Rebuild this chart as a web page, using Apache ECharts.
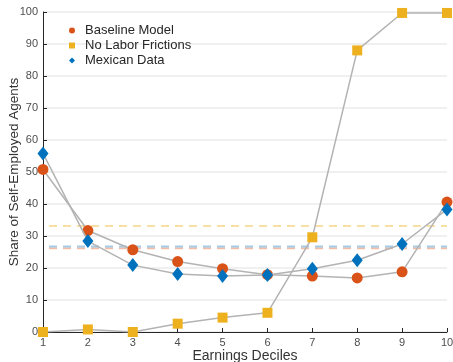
<!DOCTYPE html>
<html>
<head>
<meta charset="utf-8">
<script src="https://cdn.jsdelivr.net/npm/echarts@6/dist/echarts.min.js"></script>
<style>html,body{margin:0;padding:0;background:#fff}#c{width:453px;height:362px}</style>
</head>
<body>
<div id="c"></div>
<script>
const deciles = [1,2,3,4,5,6,7,8,9,10];
const baseline = [50.8,31.7,25.7,22.0,19.8,17.9,17.5,16.9,18.8,40.6];
const noFrictions = [0,0.8,0,2.6,4.5,6.0,29.6,88.0,99.7,99.7];
const mexican = [55.8,28.4,20.9,18.1,17.5,17.8,19.8,22.4,27.5,38.3];
const avgBaseline = 26.2;
const avgNoFrictions = 33.1;
const avgMexican = 26.7;
const yTicks = [0,10,20,30,40,50,60,70,80,90,100];

const pts = arr => deciles.map((d,i)=>[d,arr[i]]);
const flat = v => [[deciles[0],v],[deciles[deciles.length-1],v]];
const font = 'Liberation Sans, Arial, Helvetica, sans-serif';

const chart = echarts.init(document.getElementById('c'), null, {renderer:'canvas'});
chart.setOption({
  animation:false,
  backgroundColor:'#fff',
  grid:{left:43,right:6,top:12,bottom:30,containLabel:false,outerBoundsMode:'none'},
  xAxis:{
    type:'value',min:1,max:10,interval:1,
    name:'Earnings Deciles',nameLocation:'middle',nameGap:17,nameMoveOverlap:false,
    nameTextStyle:{fontFamily:font,fontSize:14,color:'#333',verticalAlign:'top'},
    axisLine:{lineStyle:{color:'#262626',width:1}},
    axisTick:{inside:true,length:4,lineStyle:{color:'#262626'}},
    axisLabel:{fontFamily:font,fontSize:11,color:'#4d4d4d',margin:5},
    splitLine:{show:false}
  },
  yAxis:{
    type:'value',min:yTicks[0],max:yTicks[yTicks.length-1],interval:10,
    name:'Share of Self-Employed Agents',nameLocation:'middle',nameGap:22,nameMoveOverlap:false,
    nameTextStyle:{fontFamily:font,fontSize:13.5,color:'#333',verticalAlign:'bottom'},
    axisLine:{show:true,lineStyle:{color:'#262626',width:1}},
    axisTick:{show:true,inside:true,length:4,lineStyle:{color:'#262626'}},
    axisLabel:{fontFamily:font,fontSize:11,color:'#4d4d4d',margin:5},
    splitLine:{show:true,lineStyle:{color:'#ebebeb',width:1.5}}
  },
  legend:{
    orient:'vertical',left:64,top:19,itemGap:2,itemWidth:6,itemHeight:6,
    textStyle:{fontFamily:font,fontSize:13,color:'#262626',padding:[0,0,0,5]},
    data:[
      {name:'Baseline Model',icon:'circle'},
      {name:'No Labor Frictions',icon:'rect'},
      {name:'Mexican Data',icon:'diamond'}
    ]
  },
  series:[
    {type:'line',name:'avgNF',data:flat(avgNoFrictions),symbol:'none',silent:true,z:1,
     lineStyle:{color:'#f8dfa4',width:2,type:[8,6],dashOffset:-6}},
    {type:'line',name:'avgB',data:flat(avgBaseline),symbol:'none',silent:true,z:1,
     lineStyle:{color:'#f2bca5',width:2,type:[8,6],dashOffset:-6}},
    {type:'line',name:'avgM',data:flat(avgMexican),symbol:'none',silent:true,z:1,
     lineStyle:{color:'#a4cbe8',width:2,type:[8,6],dashOffset:-6}},
    {type:'line',name:'Baseline Model',data:pts(baseline),symbol:'circle',symbolSize:11,z:3,
     lineStyle:{color:'#b3b3b3',width:1.5},itemStyle:{color:'#D95319'}},
    {type:'line',name:'No Labor Frictions',data:pts(noFrictions),symbol:'rect',symbolSize:10,z:4,
     lineStyle:{color:'#b3b3b3',width:1.5},itemStyle:{color:'#EDB120'}},
    {type:'line',name:'Mexican Data',data:pts(mexican),symbol:'diamond',symbolSize:[11,14],z:5,
     lineStyle:{color:'#b3b3b3',width:1.5},itemStyle:{color:'#0072BD'}}
  ]
});
</script>
</body>
</html>
